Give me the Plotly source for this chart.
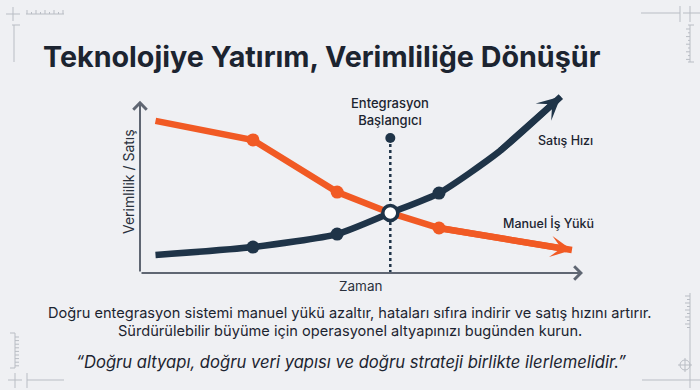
import plotly.graph_objects as go

# ---- data ----
time_sales = [0.35, 2.55, 4.45, 5.65, 6.75, 8.1, 9.5]
sales_speed = [1.04, 1.50, 2.25, 3.47, 4.62, 7.0, 10.2]
time_manual = [0.35, 2.55, 4.45, 5.65, 6.75, 9.75]
manual_load = [8.79, 7.69, 4.68, 3.47, 2.60, 1.33]
marker_times = [2.55, 4.45, 6.75]
sales_markers = [1.50, 2.25, 4.62]
manual_markers = [7.69, 4.68, 2.60]
integration_time = 5.65
integration_value = 3.47
integration_top = 7.8

NAVY = "#1f3448"
ORANGE = "#f15a24"
BG = "#eff0f3"
GRAY = "#5f6672"
TXT = "#1c2430"

W, H = 700, 390
L, R, T, B = 140, 117, 90, 117
pw, ph = W - L - R, H - T - B
YMAX = 10 * ph / 173


def px(x):
    return (x - L) / pw


def py(y):
    return (H - B - y) / ph


fig = go.Figure()

# dotted integration line
fig.add_shape(type="line", x0=integration_time, x1=integration_time, y0=0, y1=integration_top,
              xref="x", yref="y", line=dict(color=NAVY, width=2.5, dash="dot"), layer="below")

fig.add_trace(go.Scatter(x=time_manual, y=manual_load, mode="lines",
                         line=dict(color=ORANGE, width=6.5), hoverinfo="skip"))
fig.add_trace(go.Scatter(x=time_sales, y=sales_speed, mode="lines",
                         line=dict(color=NAVY, width=6.5, shape="spline", smoothing=0.6),
                         hoverinfo="skip"))
fig.add_trace(go.Scatter(x=marker_times, y=manual_markers, mode="markers",
                         marker=dict(color=ORANGE, size=13), hoverinfo="skip"))
fig.add_trace(go.Scatter(x=marker_times, y=sales_markers, mode="markers",
                         marker=dict(color=NAVY, size=13), hoverinfo="skip"))
fig.add_trace(go.Scatter(x=[integration_time], y=[integration_value], mode="markers",
                         marker=dict(color="white", size=15, line=dict(color=NAVY, width=3.5)),
                         hoverinfo="skip", cliponaxis=False))
fig.add_trace(go.Scatter(x=[integration_time], y=[integration_top], mode="markers",
                         marker=dict(color=NAVY, size=10), hoverinfo="skip", cliponaxis=False))

ann = []
# arrowheads for series
ann.append(dict(x=time_sales[-1], y=sales_speed[-1], ax=time_sales[-2], ay=sales_speed[-2],
                xref="x", yref="y", axref="x", ayref="y", showarrow=True, arrowhead=3,
                arrowwidth=6.5, arrowsize=0.6, arrowcolor=NAVY, text=""))
ann.append(dict(x=time_manual[-1], y=manual_load[-1], ax=time_manual[-2], ay=manual_load[-2],
                xref="x", yref="y", axref="x", ayref="y", showarrow=True, arrowhead=3,
                arrowwidth=6.5, arrowsize=0.55, arrowcolor=ORANGE, text=""))
# axes
ann.append(dict(x=0, y=9.95, ax=0, ay=0, xref="x", yref="y", axref="x", ayref="y",
                showarrow=True, arrowhead=4, arrowwidth=2, arrowsize=1.3, arrowcolor=GRAY, text=""))
ann.append(dict(x=10, y=0, ax=0, ay=0, xref="x", yref="y", axref="x", ayref="y",
                showarrow=True, arrowhead=4, arrowwidth=2, arrowsize=1.3, arrowcolor=GRAY, text=""))


def label(x, y, text, size, color=TXT, family="Inter", weight=400, style="normal", **kw):
    ann.append(dict(x=px(x), y=py(y), xref="paper", yref="paper", text=text, showarrow=False,
                    font=dict(size=size, color=color, family=family, weight=weight, style=style), **kw))


label(41, 56, "Teknolojiye Yatırım, Verimliliğe Dönüşür", 28.7, weight=700,
      xanchor="left", yanchor="middle")
label(390, 111, "Entegrasyon<br>Başlangıcı", 13, weight=500, xanchor="center", yanchor="middle")
label(565, 140, "Satış Hızı", 12.5, weight=500, xanchor="center", yanchor="middle")
label(548, 223, "Manuel İş Yükü", 12.5, weight=500, xanchor="center", yanchor="middle")
label(128, 182, "Verimlilik / Satış", 14, color="#2a313c", xanchor="center", yanchor="middle", textangle=-90)
label(360, 286, "Zaman", 13.5, color="#2a313c", xanchor="center", yanchor="middle")
label(350, 313, "Doğru entegrasyon sistemi manuel yükü azaltır, hataları sıfıra indirir ve satış hızını artırır.",
      14.6, xanchor="center", yanchor="middle")
label(350, 331, "Sürdürülebilir büyüme için operasyonel altyapınızı bugünden kurun.",
      14.6, xanchor="center", yanchor="middle")
label(351, 362, "“Doğru altyapı, doğru veri yapısı ve doğru strateji birlikte ilerlemelidir.”",
      16.6, style="italic", xanchor="center", yanchor="middle")

# decorative corner marks
shapes = []
DEC = "#b9bdc4"


def seg(x0, y0, x1, y1, w=1):
    shapes.append(dict(type="line", xref="paper", yref="paper", x0=px(x0), y0=py(y0),
                       x1=px(x1), y1=py(y1), line=dict(color=DEC, width=w)))


# top-left
seg(6, 14, 20, 14); seg(13, 7, 13, 21); seg(12, 25, 20, 25); seg(14, 25, 14, 62)
seg(26, 14, 64, 14)
for i in range(9):
    xx = 27 + i * 4.5
    seg(xx, 14, xx, 10 if i % 2 == 0 else 12)
# top-right
seg(641, 13, 680, 13); seg(680, 6, 680, 22); seg(690, 6, 690, 22); seg(683, 13, 700, 13)
seg(690, 25, 690, 62); seg(688, 25, 694, 25); seg(688, 62, 694, 62)
for i in range(9):
    yy = 29 + i * 3.8
    seg(690, yy, 686 if i % 2 == 0 else 688, yy)
# bottom-left
seg(15, 333, 15, 368); seg(10, 333, 15, 333); seg(10, 368, 15, 368)
for i in range(9):
    yy = 337 + i * 3.6
    seg(15, yy, 19, yy)
seg(8, 380, 22, 380); seg(15, 373, 15, 388); seg(27, 373, 27, 388); seg(27, 380, 64, 380)
# bottom-right
seg(690, 293, 690, 388); seg(642, 380, 700, 380)
for i in range(10):
    yy = 296 + i * 3.5
    seg(690, yy, 685 if i % 2 == 0 else 687, yy)
shapes.append(dict(type="circle", xref="paper", yref="paper", x0=px(680), x1=px(690),
                   y0=py(360), y1=py(370), line=dict(color=DEC, width=1)))
seg(678, 365, 692, 365); seg(685, 358, 685, 372)

fig.update_layout(
    width=W, height=H, margin=dict(l=L, r=R, t=T, b=B),
    paper_bgcolor=BG, plot_bgcolor=BG, showlegend=False,
    xaxis=dict(range=[0, 10], visible=False, fixedrange=True),
    yaxis=dict(range=[0, YMAX], visible=False, fixedrange=True),
    annotations=ann, shapes=fig.layout.shapes + tuple(shapes),
)

fig.write_html("out.html", config={"displayModeBar": False},
               post_script="document.body.style.margin='0';document.body.style.background='%s';" % BG)
